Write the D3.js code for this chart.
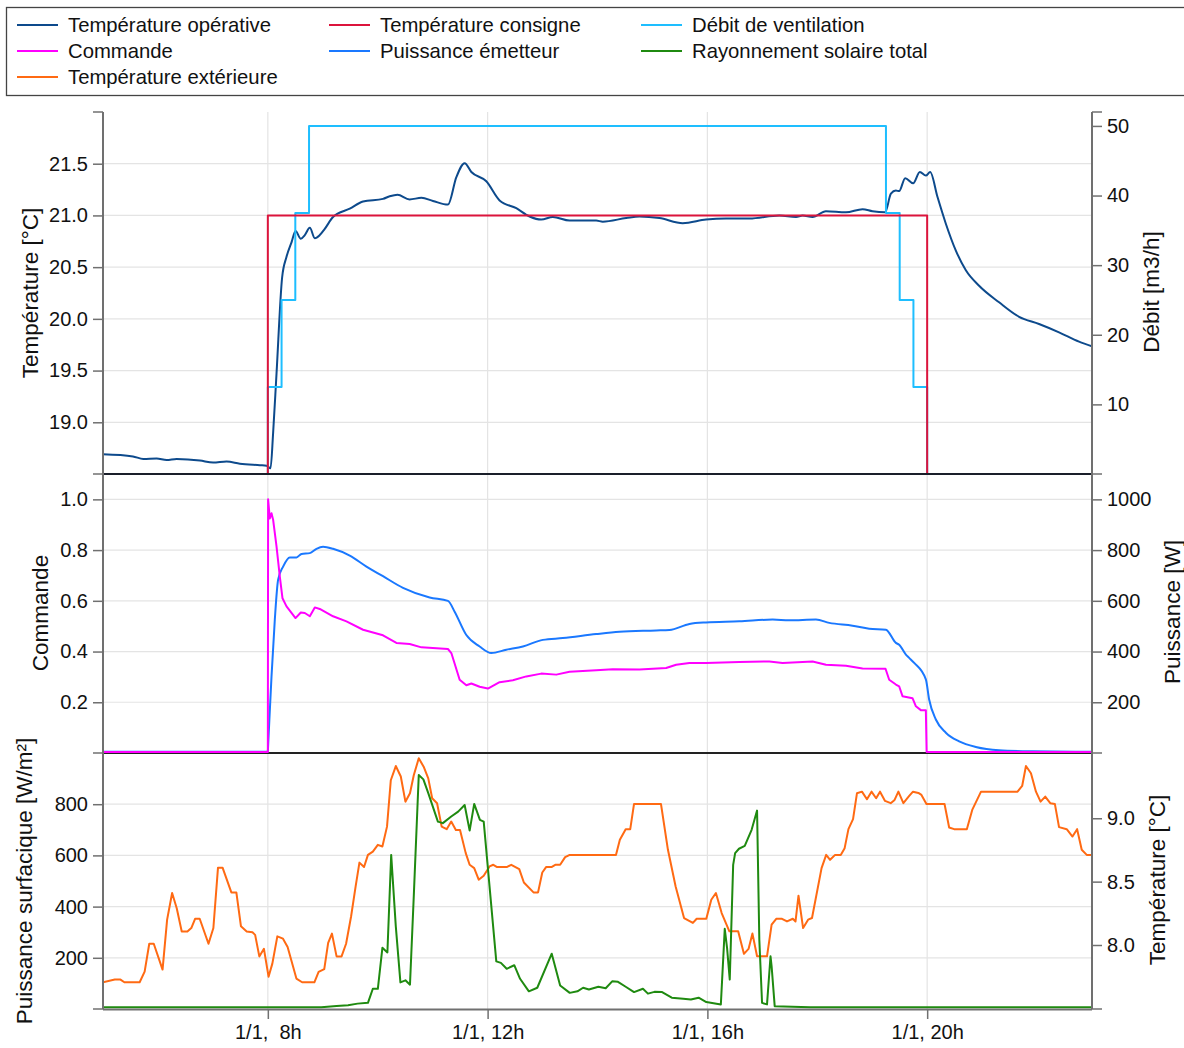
<!DOCTYPE html>
<html><head><meta charset="utf-8">
<script src="https://cdn.jsdelivr.net/npm/d3@7"></script>
<style>
html,body{margin:0;padding:0;background:#fff;}
svg{display:block;font-family:"Liberation Sans",Arial,sans-serif;}
</style></head>
<body><svg id="c" width="1184" height="1048"></svg>
<script>
// ---------------- DATA ----------------
const xTicks = [8, 12, 16, 20];
const xTickLabels = ["1/1,  8h", "1/1, 12h", "1/1, 16h", "1/1, 20h"];

// Top panel
const opTime = [5.0,5.545,5.733,5.976,6.158,6.34,6.764,7.005,7.249,7.491,7.855,7.976,8.049,8.096,8.158,8.26,8.34,8.431,8.504,8.6,8.673,8.764,8.855,8.945,9.036,9.187,9.491,9.733,10.096,10.218,10.36,10.58,10.795,11.005,11.278,11.431,11.582,11.704,11.976,12.218,12.522,12.764,12.976,13.187,13.491,13.976,14.096,14.522,14.764,15.127,15.551,15.976,16.34,16.764,17.309,17.613,17.733,17.915,18.158,18.522,18.824,19.005,19.236,19.34,19.431,19.49,19.6,19.745,19.867,19.976,20.055,20.187,20.34,20.522,20.704,20.945,21.309,21.673,22.036,22.4,22.764,23.0];
const opTemp = [18.69,18.67,18.645,18.65,18.635,18.645,18.63,18.61,18.62,18.60,18.585,18.58,18.555,18.895,19.47,20.40,20.60,20.74,20.85,20.775,20.81,20.88,20.78,20.81,20.87,20.985,21.065,21.135,21.16,21.185,21.20,21.155,21.17,21.14,21.105,21.37,21.505,21.42,21.33,21.145,21.07,20.99,20.96,20.985,20.95,20.95,20.94,20.975,20.99,20.975,20.925,20.96,20.97,20.97,21.0,20.985,21.0,20.985,21.04,21.03,21.06,21.04,21.03,21.21,21.24,21.235,21.36,21.31,21.42,21.385,21.42,21.18,20.92,20.66,20.47,20.32,20.16,20.02,19.95,19.87,19.78,19.735];
const setTime = [5, 8, 20, 23];
const setTemp = [18.5, 21, 18.5, 18.5];
const ventTime = [5, 8, 8.25, 8.5, 8.75, 19.25, 19.5, 19.75, 20, 23];
const ventFlow = [0, 12.5, 25, 37.5, 50, 37.5, 25, 12.5, 0, 0];
const tempTicks = [19.0, 19.5, 20.0, 20.5, 21.0, 21.5];
const flowTicks = [10, 20, 30, 40, 50];

// Middle panel
const cmdTime = [5,8.0,8.005,8.036,8.067,8.096,8.158,8.218,8.267,8.34,8.504,8.6,8.673,8.764,8.855,8.945,9.187,9.431,9.733,10.096,10.34,10.582,10.795,11.278,11.34,11.491,11.613,11.704,11.855,12.005,12.218,12.46,12.704,12.976,13.249,13.491,13.976,14.278,14.764,15.249,15.431,15.673,15.976,16.582,17.127,17.369,17.915,18.158,18.522,18.824,19.242,19.309,19.431,19.49,19.551,19.733,19.795,19.885,19.976,19.99,23];
const cmdVal = [0.004,0.004,1.0,0.925,0.945,0.92,0.815,0.695,0.61,0.578,0.532,0.554,0.552,0.539,0.574,0.568,0.539,0.519,0.486,0.464,0.434,0.43,0.4165,0.41,0.394,0.289,0.267,0.274,0.261,0.254,0.279,0.287,0.302,0.313,0.309,0.32,0.326,0.33,0.329,0.335,0.348,0.355,0.355,0.359,0.361,0.355,0.361,0.348,0.344,0.333,0.332,0.289,0.27,0.263,0.224,0.216,0.184,0.169,0.169,0.004,0.004];
const powTime = [5,8.0,8.005,8.067,8.127,8.187,8.278,8.4,8.522,8.613,8.764,8.885,9.005,9.187,9.491,9.795,10.096,10.46,10.945,11.278,11.4,11.613,11.855,12.067,12.34,12.642,13.005,13.369,13.976,14.4,15.067,15.309,15.673,15.976,16.582,17.187,17.491,17.976,18.218,18.642,18.945,19.249,19.431,19.49,19.613,19.673,19.764,19.976,20.036,20.158,20.34,20.582,20.885,21.309,21.915,23];
const powVal = [5,5,27,302,526,683,735,771,771,785,788,805,813,805,778,735,697,651,613,600,557,465,420,394,407,420,446,453,469,478,483,485,509,515,519,526,523,526,513,502,490,486,434,427,388,375,355,290,211,132,80,46,24,11,7,5];
const cmdTicks = [0.2, 0.4, 0.6, 0.8, 1.0];
const powTicks = [200, 400, 600, 800, 1000];

// Bottom panel
const extTime = [5.0,5.215,5.318,5.389,5.667,5.758,5.842,5.924,6.084,6.167,6.258,6.342,6.433,6.536,6.607,6.676,6.76,6.92,7.009,7.093,7.176,7.336,7.427,7.511,7.615,7.72,7.769,7.845,7.929,8.013,8.082,8.173,8.276,8.36,8.52,8.624,8.847,8.924,9.027,9.098,9.167,9.251,9.342,9.424,9.515,9.598,9.667,9.751,9.822,9.911,10.002,10.085,10.169,10.238,10.329,10.42,10.504,10.587,10.656,10.747,10.836,10.92,10.991,11.08,11.164,11.255,11.338,11.422,11.498,11.602,11.673,11.756,11.838,11.929,12.035,12.104,12.173,12.347,12.431,12.576,12.66,12.835,12.918,12.995,13.064,13.162,13.231,13.32,13.411,13.495,14.336,14.407,14.513,14.596,14.665,15.155,15.282,15.422,15.575,15.736,15.805,15.98,16.071,16.155,16.26,16.4,16.56,16.665,16.749,16.82,16.904,17.085,17.169,17.253,17.358,17.449,17.555,17.604,17.658,17.742,17.833,17.904,18.078,18.162,18.233,18.324,18.427,18.498,18.567,18.651,18.722,18.813,18.904,18.987,19.071,19.142,19.233,19.336,19.407,19.476,19.567,19.673,19.742,19.84,19.896,19.987,20.316,20.4,20.491,20.722,20.82,20.98,21.645,21.729,21.798,21.889,21.98,22.064,22.149,22.24,22.324,22.4,22.54,22.645,22.729,22.813,22.904,23.0];
const extTemp = [7.706,7.727,7.727,7.706,7.706,7.79,8.01,8.01,7.806,8.20,8.41,8.29,8.107,8.107,8.134,8.207,8.207,8.01,8.134,8.61,8.61,8.415,8.415,8.147,8.107,8.10,8.08,7.91,7.97,7.75,7.853,8.068,8.05,7.985,7.735,7.706,7.706,7.788,7.81,8.016,8.09,7.91,7.91,8.01,8.225,8.462,8.65,8.615,8.711,8.737,8.79,8.777,8.934,9.30,9.412,9.33,9.131,9.197,9.34,9.473,9.407,9.315,9.158,9.119,8.934,8.914,8.974,8.908,8.908,8.725,8.633,8.607,8.515,8.546,8.62,8.633,8.615,8.615,8.633,8.599,8.493,8.415,8.415,8.572,8.615,8.615,8.633,8.633,8.693,8.711,8.711,8.83,8.914,8.914,9.113,9.113,8.751,8.462,8.213,8.174,8.207,8.207,8.357,8.41,8.252,8.108,8.108,7.93,7.969,8.09,7.911,7.911,8.16,8.207,8.207,8.186,8.207,8.186,8.389,8.134,8.2,8.213,8.607,8.711,8.672,8.711,8.711,8.764,8.914,8.993,9.197,9.21,9.15,9.21,9.158,9.21,9.137,9.119,9.145,9.21,9.119,9.176,9.21,9.2,9.184,9.113,9.113,8.927,8.914,8.914,9.066,9.21,9.21,9.255,9.412,9.355,9.21,9.131,9.171,9.119,9.113,8.93,8.914,8.856,8.914,8.751,8.711,8.711];
const solTime = [5.0,8.973,9.251,9.46,9.633,9.822,9.911,10.002,10.085,10.176,10.245,10.329,10.413,10.504,10.587,10.656,10.747,10.831,10.92,11.095,11.185,11.338,11.464,11.582,11.673,11.756,11.86,11.929,12.158,12.242,12.347,12.485,12.591,12.751,12.904,13.167,13.32,13.495,13.635,13.738,13.844,14.016,14.149,14.267,14.373,14.513,14.665,14.827,14.918,15.036,15.176,15.351,15.56,15.7,15.84,15.98,16.245,16.316,16.358,16.407,16.469,16.505,16.575,16.68,16.805,16.904,16.945,16.995,17.085,17.149,17.169,17.225,17.869,23.0];
const solVal = [7,7,12,15,21,24,79,79,239,221,602,323,104,112,95,440,914,897,843,732,726,752,771,797,697,801,739,732,186,180,157,171,118,69,83,216,92,63,69,83,76,87,81,108,106,87,66,79,60,67,66,44,40,37,44,27,18,313,239,115,563,609,626,637,700,775,271,24,18,206,167,11,7,7];
const solTicks = [200, 400, 600, 800];
const extTicks = [8.0, 8.5, 9.0];

const legendItems = [
  {label:"Température opérative", color:"#0d4a8c", col:0, row:0},
  {label:"Température consigne", color:"#dc143c", col:1, row:0},
  {label:"Débit de ventilation", color:"#1ebeff", col:2, row:0},
  {label:"Commande", color:"#ff00ff", col:0, row:1},
  {label:"Puissance émetteur", color:"#1a78ff", col:1, row:1},
  {label:"Rayonnement solaire total", color:"#1f8a10", col:2, row:1},
  {label:"Température extérieure", color:"#ff6a13", col:0, row:2}
];

// ---------------- DRAW ----------------
const svg = d3.select("#c");
const L = 103, R = 1092;
const P1 = [112, 474], P2 = [474, 753], P3 = [753, 1009];
const x = d3.scaleLinear().domain([5, 23]).range([L, R]);

const yT = d3.scaleLinear().domain([18.5, 22.0]).range([P1[1], P1[0]]);
const yD = d3.scaleLinear().domain([0, 52]).range([P1[1], P1[0]]);
const yC = d3.scaleLinear().domain([0, 1.1]).range([P2[1], P2[0]]);
const yP = d3.scaleLinear().domain([0, 1100]).range([P2[1], P2[0]]);
const yS = d3.scaleLinear().domain([0, 1000]).range([P3[1], P3[0]]);
const yE = d3.scaleLinear().domain([7.495, 9.515]).range([P3[1], P3[0]]);

const gridC = "#e4e4e4", axisC = "#707070", FS = 20, TFS = 22.5;

// legend
const lg = svg.append("g");
lg.append("rect").attr("x", 6.5).attr("y", 7.5).attr("width", 1200).attr("height", 88)
  .attr("fill", "#fff").attr("stroke", "#444").attr("stroke-width", 1.3);
const colX = [17, 329, 641];
legendItems.forEach(d => {
  const cy = 25 + d.row * 26;
  lg.append("line").attr("x1", colX[d.col]).attr("x2", colX[d.col] + 41).attr("y1", cy).attr("y2", cy)
    .attr("stroke", d.color).attr("stroke-width", 2);
  lg.append("text").attr("x", colX[d.col] + 51).attr("y", cy).attr("dy", "0.35em")
    .attr("font-size", 20.3).attr("fill", "#111").text(d.label);
});

// grids
const grid = svg.append("g");
xTicks.forEach(t => grid.append("line").attr("x1", x(t)).attr("x2", x(t)).attr("y1", P1[0]).attr("y2", P3[1])
  .attr("stroke", gridC).attr("stroke-width", 1.2));
function hgrid(scale, vals) {
  vals.forEach(v => grid.append("line").attr("x1", L).attr("x2", R).attr("y1", scale(v)).attr("y2", scale(v))
    .attr("stroke", gridC).attr("stroke-width", 1.2));
}
hgrid(yT, tempTicks); hgrid(yC, cmdTicks); hgrid(yS, solTicks);

// clip paths
const defs = svg.append("defs");
[P1, P2, P3].forEach((p, i) => defs.append("clipPath").attr("id", "clip" + i)
  .append("rect").attr("x", L).attr("y", p[0] - 1).attr("width", R - L).attr("height", p[1] - p[0] + 2));

function series(ts, vs, ys, color, curve, clip, w) {
  const pts = ts.map((t, i) => [t, vs[i]]);
  const line = d3.line().x(d => x(d[0])).y(d => ys(d[1])).curve(curve);
  svg.append("path").datum(pts).attr("d", line).attr("fill", "none")
    .attr("stroke", color).attr("stroke-width", w || 2).attr("stroke-linejoin", "round")
    .attr("clip-path", "url(#clip" + clip + ")");
}

// lower separator under the series so near-zero lines stay visible
svg.append("line").attr("x1", L).attr("x2", R).attr("y1", P3[0]).attr("y2", P3[0])
  .attr("stroke", "#222").attr("stroke-width", 2);

// top
series(opTime, opTemp, yT, "#0d4a8c", d3.curveMonotoneX, 0);
series(ventTime, ventFlow, yD, "#1ebeff", d3.curveStepAfter, 0);
series(setTime, setTemp, yT, "#dc143c", d3.curveStepAfter, 0);
// middle
series(powTime, powVal, yP, "#1a78ff", d3.curveMonotoneX, 1);
series(cmdTime, cmdVal, yC, "#ff00ff", d3.curveLinear, 1);
// bottom
series(extTime, extTemp, yE, "#ff6a13", d3.curveLinear, 2);
series(solTime, solVal, yS, "#1f8a10", d3.curveLinear, 2);

// upper separator over step lines at the panel floor
svg.append("line").attr("x1", L).attr("x2", R).attr("y1", P2[0]).attr("y2", P2[0])
  .attr("stroke", "#1a1f2a").attr("stroke-width", 2.2);
svg.append("line").attr("x1", L).attr("x2", R).attr("y1", P3[0] + 0.5).attr("y2", P3[0] + 0.5)
  .attr("stroke", "#222").attr("stroke-width", 1);

// axes
const ax = svg.append("g");
ax.append("line").attr("x1", L).attr("x2", L).attr("y1", P1[0]).attr("y2", P3[1]).attr("stroke", axisC).attr("stroke-width", 2);
ax.append("line").attr("x1", R).attr("x2", R).attr("y1", P1[0]).attr("y2", P3[1]).attr("stroke", axisC).attr("stroke-width", 2);
ax.append("line").attr("x1", L).attr("x2", R).attr("y1", P3[1] + 0.5).attr("y2", P3[1] + 0.5).attr("stroke", axisC).attr("stroke-width", 2);

function yAxis(scale, vals, fmt, side) {
  const a = (side === "left" ? d3.axisLeft(scale) : d3.axisRight(scale))
    .tickValues(vals).tickFormat(fmt).tickSize(10).tickPadding(5).tickSizeOuter(0);
  const g = ax.append("g").attr("transform", `translate(${side === "left" ? L : R},0)`).call(a);
  g.select(".domain").remove();
  g.selectAll(".tick line").attr("stroke", axisC).attr("stroke-width", 1.5);
  g.selectAll(".tick text").attr("font-size", FS).attr("fill", "#111").attr("font-family", "Liberation Sans, Arial, sans-serif");
}
yAxis(yT, tempTicks, d3.format(".1f"), "left");
yAxis(yD, flowTicks, d3.format("d"), "right");
yAxis(yC, cmdTicks, d3.format(".1f"), "left");
yAxis(yP, powTicks, d3.format("d"), "right");
yAxis(yS, solTicks, d3.format("d"), "left");
yAxis(yE, extTicks, d3.format(".1f"), "right");
// boundary ticks
[P1[0], P2[0], P3[0], P3[1]].forEach(y => {
  ax.append("line").attr("x1", L - 10).attr("x2", L).attr("y1", y).attr("y2", y).attr("stroke", axisC).attr("stroke-width", 1.5);
  ax.append("line").attr("x1", R).attr("x2", R + 10).attr("y1", y).attr("y2", y).attr("stroke", axisC).attr("stroke-width", 1.5);
});

const xa = d3.axisBottom(x).tickValues(xTicks).tickFormat((d, i) => xTickLabels[i]).tickSize(10).tickPadding(6).tickSizeOuter(0);
const gx = ax.append("g").attr("transform", `translate(0,${P3[1]})`).call(xa);
gx.select(".domain").remove();
gx.selectAll(".tick line").attr("stroke", axisC).attr("stroke-width", 1.5);
gx.selectAll(".tick text").attr("font-size", FS).attr("fill", "#111").style("white-space", "pre")
  .attr("font-family", "Liberation Sans, Arial, sans-serif");

// axis titles
function vtitle(txt, cx, cy) {
  svg.append("text").attr("transform", `translate(${cx},${cy}) rotate(-90)`).attr("text-anchor", "middle")
    .attr("dy", "0.35em").attr("font-size", TFS).attr("fill", "#111").text(txt);
}
vtitle("Température [°C]", 30, 293);
vtitle("Débit [m3/h]", 1151, 292);
vtitle("Commande", 40, 613);
vtitle("Puissance [W]", 1172, 612);
vtitle("Puissance surfacique [W/m²]", 24, 881);
vtitle("Température [°C]", 1157, 880);
</script></body></html>
